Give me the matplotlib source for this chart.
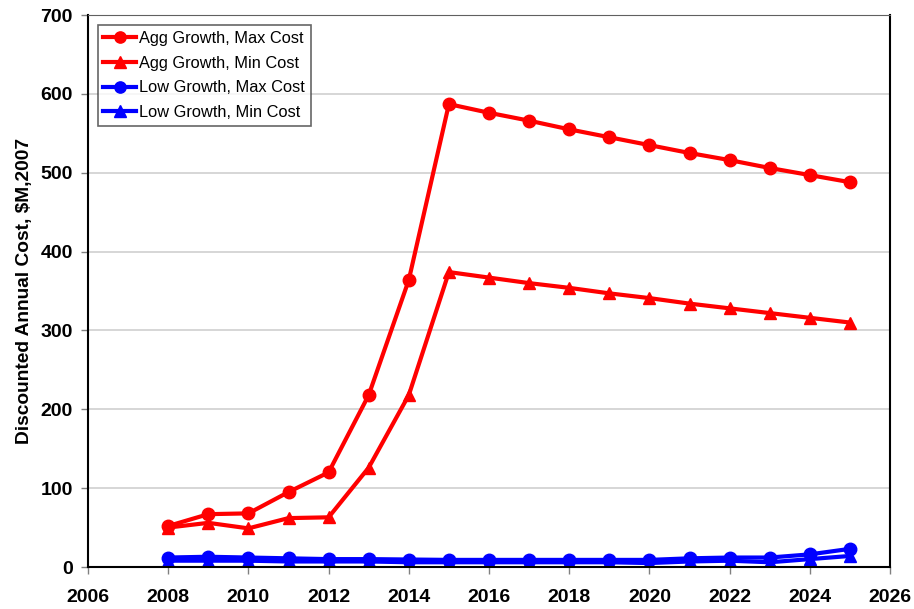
import matplotlib
matplotlib.use("Agg")
import matplotlib.pyplot as plt

years = list(range(2008, 2026))
agg_max = [52, 67, 68, 95, 120, 218, 364, 587, 576, 566, 555, 545, 535, 525, 516, 506, 497, 488]
agg_min = [50, 56, 49, 62, 63, 126, 218, 374, 367, 360, 354, 347, 341, 334, 328, 322, 316, 310]
low_max = [12, 13, 12, 11, 10, 10, 9.5, 9, 9, 9, 9, 9, 9, 11, 12, 12, 16, 23]
low_min = [8, 8, 8, 7, 7, 7, 6, 6, 6, 6, 6, 6, 5, 7, 8, 6, 10, 14]
labels = ["Agg Growth, Max Cost", "Agg Growth, Min Cost", "Low Growth, Max Cost", "Low Growth, Min Cost"]

plt.rcParams['font.family'] = ['Liberation Sans', 'DejaVu Sans']
fig = plt.figure(figsize=(9.14, 6.09), dpi=100)
ax = fig.add_axes([88/914, 1-567/609, (890-88)/914, (567-15)/609])

ax.plot(years, agg_max, color='#ff0000', lw=3, marker='o', ms=9, label=labels[0])
ax.plot(years, agg_min, color='#ff0000', lw=3, marker='^', ms=9, label=labels[1])
ax.plot(years, low_max, color='#0000ff', lw=3, marker='o', ms=9, label=labels[2])
ax.plot(years, low_min, color='#0000ff', lw=3, marker='^', ms=9, label=labels[3])

ax.set_xlim(2006, 2026)
ax.set_ylim(0, 700)
ax.set_xticks(range(2006, 2027, 2))
ax.set_yticks(range(0, 701, 100))
ax.yaxis.grid(True, color='#d0d0d0', lw=1.2)
ax.set_axisbelow(True)
for lab in ax.get_xticklabels() + ax.get_yticklabels():
    lab.set_fontweight('bold')
ax.tick_params(axis='both', labelsize=14, direction='out', length=5, color='#808080', width=1)
ax.tick_params(axis='x', pad=11)
ax.tick_params(axis='y', pad=6)
ax.spines['top'].set_color('#606060')
ax.spines['left'].set_linewidth(1.5)
ax.spines['bottom'].set_linewidth(1.5)
ax.spines['right'].set_linewidth(1.5)
ax.set_ylabel("Discounted Annual Cost, $M,2007", fontsize=13.8, fontweight='bold', labelpad=5)

leg = ax.legend(loc='upper left', bbox_to_anchor=(0.012, 0.982), fontsize=11.8, frameon=True,
                fancybox=False, edgecolor='#404040', handlelength=2.0, handletextpad=0.2,
                borderpad=0.35, labelspacing=0.6, borderaxespad=0, markerscale=0.9)
leg.get_frame().set_linewidth(1.2)

fig.savefig("out.png", dpi=100)
